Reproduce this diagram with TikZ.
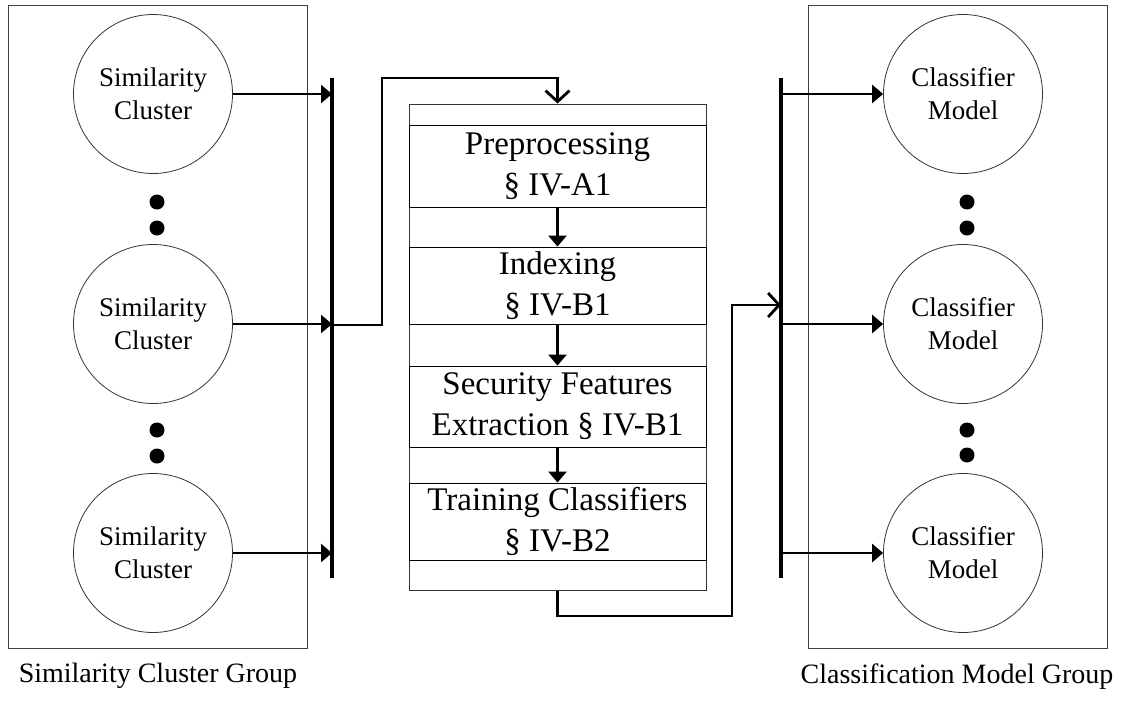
\documentclass[tikz,border=0pt]{standalone}
\usepackage{fontspec}
\setmainfont{Liberation Serif}
\usetikzlibrary{arrows.meta,calc}
\tikzset{
  grp/.style={draw=black!75, line width=1pt},
  circ/.style={circle, draw=black!80, line width=0.8pt, fill=white, minimum size=159pt, inner sep=0pt, align=center, font=\fontsize{27}{33}\selectfont},
  row/.style={draw=black, line width=0.9pt, minimum width=297pt, inner sep=0pt, align=center, font=\fontsize{33}{41}\selectfont},
  arr/.style={line width=2.8pt, -{Triangle[length=11pt,width=18pt]}},
  oarr/.style={line width=2.8pt, -{Straight Barb[length=11pt,width=24pt,line width=2.8pt]}},
  bus/.style={line width=3.2pt},
  dot/.style={circle, fill=black, minimum size=15pt, inner sep=0pt},
  lbl/.style={font=\fontsize{28}{33}\selectfont, anchor=base}
}
\begin{document}
\begin{tikzpicture}[x=1pt,y=-1pt]
\useasboundingbox (0,0) rectangle (1127,707);
% group boxes
\draw[grp] (8,5) rectangle (307,648);
\draw[grp] (808,5) rectangle (1107,648);
% left circles
\node[circ] (s1) at (153,94) {Similarity\\Cluster};
\node[circ] (s2) at (153,324) {Similarity\\Cluster};
\node[circ] (s3) at (153,553) {Similarity\\Cluster};
\node[dot] (ld1) at (157,202) {};
\node[dot] (ld2) at (157,228) {};
\node[dot] (ld3) at (157,430) {};
\node[dot] (ld4) at (157,456) {};
% right circles
\node[circ] (m1) at (963,94) {Classifier\\Model};
\node[circ] (m2) at (963,324) {Classifier\\Model};
\node[circ] (m3) at (963,553) {Classifier\\Model};
\node[dot] (rd1) at (967,202) {};
\node[dot] (rd2) at (967,228) {};
\node[dot] (rd3) at (967,430) {};
\node[dot] (rd4) at (967,455) {};
% labels
\node[lbl] (lgl) at (158,682) {Similarity Cluster Group};
\node[lbl] (rgl) at (957,683) {Classification Model Group};
% central process box
\node[draw=black!80, line width=1pt, minimum width=297pt, minimum height=486pt, inner sep=0pt] (proc) at (557.5,347) {};
\draw[draw=black!50, line width=1pt] (409,125) -- (706,125);
\node[row, minimum height=82pt] (pre) at (557.5,166) {Preprocessing\\\S\ IV-A1};
\node[row, minimum height=77pt] (idx) at (557.5,285.5) {Indexing\\\S\ IV-B1};
\node[row, minimum height=81pt] (sec) at (557.5,406.5) {Security Features\\Extraction \S\ IV-B1};
\node[row, minimum height=77pt] (trn) at (557.5,521.5) {Training Classifiers\\\S\ IV-B2};
\draw[arr] (pre.south) -- (idx.north);
\draw[arr] (idx.south) -- (sec.north);
\draw[arr] (sec.south) -- (trn.north);
% left bus
\coordinate (lbT) at (332,78);
\coordinate (lbB) at (332,578);
\draw[bus] (lbT) -- (lbB);
\draw[arr] (s1.east) -- (s1.east -| lbT);
\draw[arr] (s2.east) -- (s2.east -| lbT);
\draw[arr] (s3.east) -- (s3.east -| lbT);
\coordinate (lj) at (332,325);
\draw[oarr] (lj) -- (382,325) -- (382,78) -- (557.5,78) -- (proc.north);
% right bus
\coordinate (rbT) at (781,78);
\coordinate (rbB) at (781,578);
\draw[bus] (rbT) -- (rbB);
\draw[arr] (m1.west -| rbT) -- (m1.west);
\draw[arr] (m2.west -| rbT) -- (m2.west);
\draw[arr] (m3.west -| rbT) -- (m3.west);
\coordinate (rj) at (781,305);
\draw[oarr] (proc.south) -- (557.5,616) -- (732,616) -- (732,305) -- (rj);
\end{tikzpicture}
\end{document}
